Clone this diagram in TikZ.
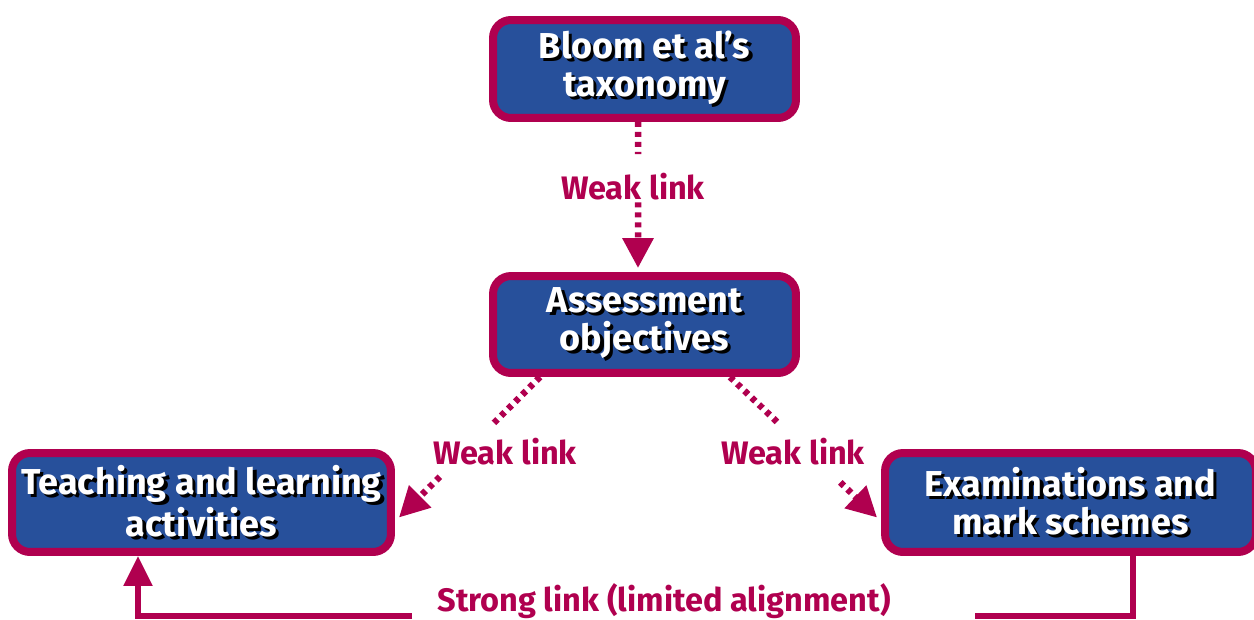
\documentclass[tikz,border=0pt]{standalone}
\usepackage{fontspec}
\setmainfont{Fira Sans}
\usetikzlibrary{arrows.meta,calc}
\definecolor{boxblue}{HTML}{27509B}
\definecolor{linkred}{HTML}{B0004F}
\newcommand{\shadowed}[1]{\leavevmode\rlap{\hspace{1.8pt}\raisebox{-1.8pt}{\color{black}#1}}{\color{white}#1}}
\tikzset{
  topic/.style = {draw=linkred, fill=boxblue, line width=0.16cm, rounded corners=0.36cm, align=center, inner sep=0pt, font=\fontsize{20.5}{21.5}\selectfont\bfseries},
  weaklink/.style = {draw=linkred, line width=0.13cm, dash pattern=on 0.1cm off 0.1cm},
  weakhead/.style = {weaklink, -{Triangle[length=0.6cm,width=0.6cm]}},
  stronglink/.style = {draw=linkred, line width=0.11cm},
  linklabel/.style = {text=linkred, inner sep=0pt, font=\fontsize{18.5}{21}\selectfont\bfseries},
}

\begin{document}
\begin{tikzpicture}[x=0.02cm, y=-0.02cm]
\useasboundingbox (0,0) rectangle (1254,619);

% boxes
\node [topic, minimum width=6.06cm, minimum height=1.96cm] (blm) at (644.5,69) {\shadowed{Bloom et al’s}\\\shadowed{taxonomy}};
\node [topic, minimum width=6.06cm, minimum height=1.94cm] (aob) at (644.5,324.5) {\shadowed{Assessment}\\\shadowed{objectives}};
\node [topic, minimum width=7.58cm, minimum height=1.98cm] (tla) at (201.5,502.5) {\shadowed{Teaching and learning}\\\shadowed{activities}};
\node [topic, minimum width=7.42cm, minimum height=1.98cm] (ems) at (1070.5,502.5) {\shadowed{Examinations and}\\\shadowed{mark schemes}};

% weak links
\coordinate (ts) at ([xshift=-0.13cm]blm.south);
\coordinate (tt) at ([xshift=-0.13cm,yshift=0.08cm]aob.north);
\coordinate (t1) at ($(ts)!0.22!(tt)$);
\coordinate (t2) at ($(ts)!0.55!(tt)$);
\draw [weaklink] (ts) -- (t1);
\draw [weakhead] (t2) -- (tt);
\node [linklabel] (wl1) at (633,187) {Weak link};

\coordinate (ls) at ([xshift=-2.09cm]aob.south);
\coordinate (lt) at ([xshift=0.08cm,yshift=-0.3cm]tla.east);
\coordinate (l1) at ($(ls)!0.34!(lt)$);
\coordinate (l2) at ($(ls)!0.71!(lt)$);
\draw [weaklink] (ls) -- (l1);
\draw [weakhead] (l2) -- (lt);
\node [linklabel] (wl2) at (505,452) {Weak link};

\coordinate (rs) at ([xshift=1.71cm]aob.south);
\coordinate (rt) at ([xshift=-0.08cm,yshift=-0.3cm]ems.west);
\coordinate (r1) at ($(rs)!0.32!(rt)$);
\coordinate (r2) at ($(rs)!0.75!(rt)$);
\draw [weaklink] (rs) -- (r1);
\draw [weakhead] (r2) -- (rt);
\node [linklabel] (wl3) at (793,452) {Weak link};

% strong link
\coordinate (sr) at (975,616);
\coordinate (sl) at (412,616);
\draw [stronglink] ([xshift=1.25cm]ems.south) |- (sr);
\draw [stronglink, -{Triangle[length=0.6cm,width=0.56cm]}] (sl) -| ([xshift=-1.27cm]tla.south);
\node [linklabel] (sll) at (664,601) {Strong link (limited alignment)};
\end{tikzpicture}
\end{document}
